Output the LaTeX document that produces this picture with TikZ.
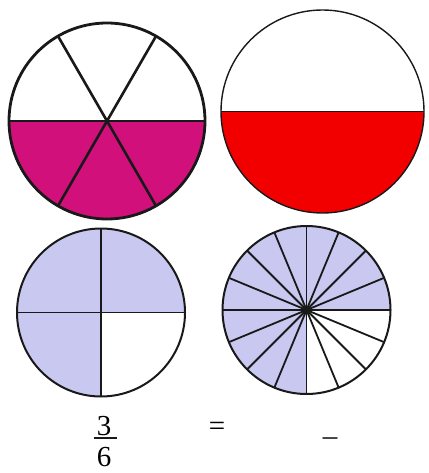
\documentclass[tikz,border=0pt]{standalone}
\usepackage{fontspec}
\setmainfont{Liberation Serif}
\definecolor{magentafill}{RGB}{210,16,124}
\definecolor{redfill}{RGB}{242,0,0}
\definecolor{lavfill}{RGB}{200,200,240}
\definecolor{edge}{RGB}{25,25,25}
\begin{document}
\begin{tikzpicture}[x=1pt,y=-1pt,
  bigtext/.style={font=\fontsize{29}{32}\selectfont, inner sep=0pt, anchor=base}]
\useasboundingbox (0,0) rectangle (428,473);
% top-left circle: sixths, lower half magenta
\coordinate (c1) at (107,121);
\fill[magentafill] (c1) ++(0:98) arc[start angle=0,end angle=180,radius=98] -- cycle;
\foreach \a in {60,120,240,300}
  \draw[edge, line width=2.6pt] (c1) -- ++(\a:98);
\draw[edge, line width=2.6pt] (c1) ++(180:98) -- ++(196,0);
\draw[edge, line width=2.8pt] (c1) circle[radius=98];
% top-right circle: halves, lower half red
\coordinate (c2) at (322.5,111.5);
\fill[redfill] (c2) ++(0:101.5) arc[start angle=0,end angle=180,radius=101.5] -- cycle;
\draw[edge, line width=1.4pt] (c2) ++(180:101.5) -- ++(203,0);
\draw[edge, line width=1.4pt] (c2) circle[radius=101.5];
% bottom-left circle: quarters, 3 shaded
\coordinate (c3) at (101,312.5);
\fill[lavfill] (c3) -- ++(90:84) arc[start angle=90,end angle=360,radius=84] -- cycle;
\draw[edge, line width=1.8pt] (c3) ++(180:84) -- ++(168,0);
\draw[edge, line width=1.8pt] (c3) ++(270:84) -- ++(0,168);
\draw[edge, line width=2pt] (c3) circle[radius=84];
% bottom-right circle: sixteenths, 12 shaded
\coordinate (c4) at (306.5,310);
\fill[lavfill] (c4) -- ++(90:84) arc[start angle=90,end angle=360,radius=84] -- cycle;
\foreach \a in {0,22.5,...,337.5}
  \draw[edge, line width=1.8pt] (c4) -- ++(\a:84);
\draw[edge, line width=2pt] (c4) circle[radius=84];
% equation text
\node[bigtext] (num) at (104,435) {3};
\draw[edge, line width=2pt] (num.south west) ++(-3,3) -- ++(23,0);
\node[bigtext] (den) at (104,466) {6};
\node[bigtext] (eq) at (217,435) {=};
\node[bigtext] (blank) at (330,435) {\_};
\end{tikzpicture}
\end{document}
